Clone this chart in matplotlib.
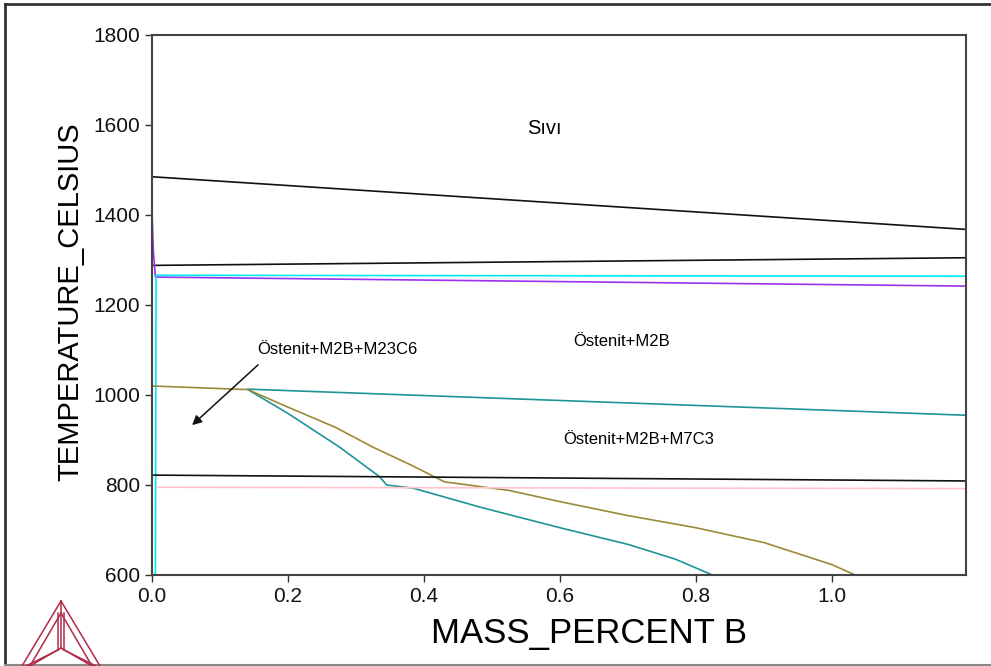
import matplotlib
matplotlib.use("Agg")
import matplotlib.pyplot as plt
from matplotlib.lines import Line2D

plt.rcParams['font.family'] = ['Liberation Sans', 'DejaVu Sans']

# phase boundaries (x = mass % B, T = Celsius)
liq_x = [0.0, 1.197]
liq_T = [1485, 1368]

sol_x = [0.0, 1.197]
sol_T = [1288, 1305]

cyan_x = [0.005, 0.006, 1.197]
cyan_T = [600, 1266, 1264]

purple_x = [0.0, 0.002, 0.005, 1.197]
purple_T = [1405, 1320, 1262, 1242]

teal_hi_x = [0.141, 1.197]
teal_hi_T = [1013, 955]

olive_x = [0.0, 0.141, 0.2, 0.27, 0.325, 0.38, 0.43, 0.48, 0.525, 0.6, 0.7, 0.8, 0.9, 1.0, 1.034]
olive_T = [1020, 1012, 973, 928, 884, 845, 807, 797, 788, 763, 732, 705, 672, 623, 600]

teal_lo_x = [0.141, 0.2, 0.276, 0.335, 0.345, 0.384, 0.482, 0.6, 0.7, 0.77, 0.824]
teal_lo_T = [1012, 959, 884, 818, 800, 793, 751, 705, 668, 635, 600]

low_x = [0.0, 1.197]
low_T = [822, 809]

pink_x = [0.008, 1.197]
pink_T = [795, 792]

labels = ["Sıvı", "Östenit+M2B", "Östenit+M2B+M23C6", "Östenit+M2B+M7C3"]
label_x = [0.577, 0.691, 0.272, 0.715]
label_T = [1593, 1118, 1100, 900]

xticks = [0.0, 0.2, 0.4, 0.6, 0.8, 1.0]
yticks = [600, 800, 1000, 1200, 1400, 1600, 1800]

fig = plt.figure(figsize=(9.91, 6.66), dpi=100)
ax = fig.add_axes([152/991, 1-575/666, (966-152)/991, (575-35)/666])

lw = 1.2
ax.plot(liq_x, liq_T, color='#111111', lw=lw)
ax.plot(sol_x, sol_T, color='#111111', lw=lw)
ax.plot(purple_x, purple_T, color='#9a32f0', lw=lw)
ax.plot(cyan_x, cyan_T, color='#00e8f0', lw=lw)
ax.plot(teal_hi_x, teal_hi_T, color='#1f9396', lw=lw)
ax.plot(teal_lo_x, teal_lo_T, color='#1f9396', lw=lw)
ax.plot(olive_x, olive_T, color='#9a8a38', lw=lw)
ax.plot(low_x, low_T, color='#111111', lw=lw)
ax.plot(pink_x, pink_T, color='#ffc4cc', lw=lw)

for s, x, t in zip(labels, label_x, label_T):
    ax.text(x, t, s, ha='center', va='center', fontsize=14.5 if s == "Sıvı" else 12)

ax.annotate("", xy=(0.059, 933), xytext=(0.156, 1067),
            arrowprops=dict(arrowstyle='-|>', color='#111111', lw=1.1,
                            mutation_scale=14, shrinkA=0, shrinkB=0))

ax.set_xlim(0, 1.197)
ax.set_ylim(600, 1800)
ax.set_xticks(xticks)
ax.set_xticklabels(["%.1f" % v for v in xticks])
ax.set_yticks(yticks)
ax.tick_params(direction='out', length=5, width=1, colors='#333333',
               labelsize=15, labelcolor='#111111', top=False, right=False)
for sp in ax.spines.values():
    sp.set_color('#444444')
    sp.set_linewidth(1.5)

ax.set_xlabel("MASS_PERCENT B", fontsize=25)
ax.set_ylabel("TEMPERATURE_CELSIUS", fontsize=21)
ax.xaxis.set_label_coords(0.537, -0.109)
ax.xaxis.label.set_va('center')
ax.yaxis.set_label_coords(-0.1007, 0.5056)
ax.yaxis.label.set_va('center')

# outer frame
W, H = 991.0, 666.0
fig.add_artist(Line2D([5/W, 1.0], [1-4/H, 1-4/H], color='#333333', lw=2))
fig.add_artist(Line2D([5/W, 5/W], [1-4/H, 0.0], color='#333333', lw=2))
fig.add_artist(Line2D([5/W, 1.0], [1-665/H, 1-665/H], color='#888888', lw=1.5))

# logo
logo = '#b22a48'
segs = [((61, 601), (22, 666)), ((61, 601), (100, 666)),
        ((61, 613), (30, 666)), ((61, 613), (92, 666)),
        ((61, 601), (61, 648)), ((58, 613), (58, 650)), ((64, 613), (64, 650)),
        ((61, 648), (30, 666)), ((61, 648), (92, 666)),
        ((58, 650), (26, 666)), ((64, 650), (96, 666))]
for (x0, y0), (x1, y1) in segs:
    fig.add_artist(Line2D([x0/W, x1/W], [1-y0/H, 1-y1/H], color=logo, lw=1.1))

fig.savefig("out.png", dpi=100)
